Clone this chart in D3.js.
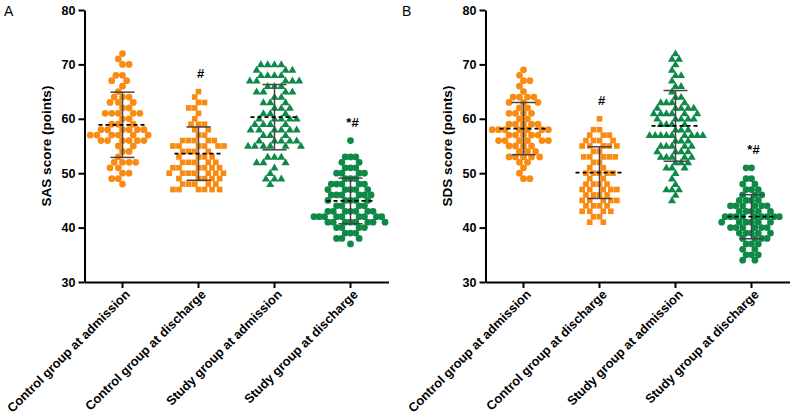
<!DOCTYPE html>
<html><head><meta charset="utf-8">
<script src="https://cdn.jsdelivr.net/npm/d3@7"></script>
<style>body{margin:0;background:#fff}svg{display:block}text{font-family:Arial,"Liberation Sans",sans-serif}</style>
</head><body>
<svg id="chart" width="792" height="420"></svg>
<script>
const categories = ["Control group at admission","Control group at discharge","Study group at admission","Study group at discharge"];
const yTicks = [30,40,50,60,70,80];
const annotations = ["", "#", "", "*#"];

const sasControlAdmission = [72,71,70,70,68,68,67,67,66,65,64,64,64,63,63,63,62,62,61,61,61,61,61,60,60,59,59,59,58,58,58,58,58,58,57,57,57,57,57,57,56,56,56,56,56,56,55,55,54,54,53,52,52,52,52,51,51,50,50,49,49,48];
const sasControlDischarge = [65,64,63,63,62,62,61,60,59,59,59,58,58,57,57,56,56,56,56,56,55,55,55,55,55,55,54,54,54,54,53,53,53,53,52,52,52,52,52,51,51,51,51,51,51,50,50,50,50,50,50,50,49,49,49,49,49,48,48,48,48,48,47,47,47,47,47,47];
const sasStudyAdmission = [70,70,70,70,69,69,69,68,68,68,68,67,67,67,67,67,66,66,66,65,65,65,65,64,64,63,63,63,62,62,62,61,61,61,60,60,60,60,60,59,59,59,59,58,58,58,58,58,58,57,57,57,56,56,56,56,56,55,55,55,55,55,55,53,53,53,52,52,52,51,50,49,49,49,48];
const sasStudyDischarge = [56,53,53,53,52,52,51,51,51,50,50,50,50,49,49,49,48,48,48,48,48,47,47,47,47,47,46,46,46,46,46,46,45,45,45,45,45,44,44,44,44,43,43,43,43,43,43,43,42,42,42,42,42,42,42,42,42,41,41,41,41,41,41,41,41,40,40,40,40,39,39,39,38,38,38,37];
const sasMeans = [58.9, 53.6, 60.3, 44.9];
const sasSD = [6.0, 4.9, 6.0, 4.2];

const sdsControlAdmission = [69,68,67,67,66,65,64,64,64,64,63,63,63,62,62,61,61,61,61,60,60,59,59,59,59,59,58,58,58,58,58,58,58,57,57,57,57,57,56,56,56,56,56,56,55,55,55,55,54,54,54,53,53,53,53,53,52,52,51,50,49,49];
const sdsControlDischarge = [60,58,58,57,57,57,56,56,56,56,55,55,55,55,55,54,54,53,53,53,53,53,52,52,51,51,50,50,50,50,50,49,49,48,48,48,48,47,47,47,47,47,46,46,46,46,45,45,45,45,45,44,44,44,44,43,43,43,43,42,42,41,41];
const sdsStudyAdmission = [72,71,71,70,69,68,68,67,66,66,65,64,64,63,63,63,63,62,62,62,62,62,61,61,61,61,61,61,60,60,60,60,60,59,59,59,59,58,58,58,57,57,57,57,57,57,57,57,57,56,56,56,55,55,55,55,55,54,54,54,54,53,53,53,53,53,52,52,52,51,51,51,50,49,48,47,47,47,46,45];
const sdsStudyDischarge = [51,51,49,49,48,48,47,47,47,46,46,46,45,45,45,45,44,44,44,44,44,44,43,43,43,43,43,42,42,42,42,42,42,42,42,42,41,41,41,41,41,41,40,40,40,40,40,40,39,39,39,39,39,38,38,38,38,37,37,37,36,36,35,35,35,34,34];
const sdsMeans = [58.2, 50.1, 58.7, 42.0];
const sdsSD = [4.8, 4.75, 6.5, 4.05];

const ORANGE = "#f98a12", GREEN = "#0e8948";
const groupStyle = [
  {shape:"circle", color:ORANGE},
  {shape:"square", color:ORANGE},
  {shape:"triangle", color:GREEN},
  {shape:"circle", color:GREEN}
];
// horizontal spacing of the swarm per group (layout only)
const swarmA = [6.6, 6.0, 6.8, 5.3];
const swarmB = [6.4, 6.0, 5.6, 5.4];

const svg = d3.select("#chart");

function beeswarm(values, y, a, b) {
  const placed = [];
  const sorted = values.slice().sort((p,q)=>q-p);
  const hit = (dx, dy) => (dx*dx)/(a*a) + (dy*dy)/(b*b) < 0.999;
  for (const v of sorted) {
    const py = y(v);
    const cands = [0];
    for (const p of placed) {
      const dy = Math.abs(p.y - py);
      if (dy < b) {
        const dx = a*Math.sqrt(1 - (dy*dy)/(b*b));
        cands.push(p.x + dx, p.x - dx);
      }
    }
    cands.sort((m,n)=>Math.abs(m)-Math.abs(n) || m-n);
    let chosen = 0;
    for (const c of cands) {
      if (!placed.some(p => hit(p.x - c, p.y - py))) { chosen = c; break; }
    }
    placed.push({x: chosen, y: py, v});
  }
  return placed;
}

function drawPanel(opts) {
  const {left, letter, letterX, ylabel, groups, means, sds, spacing} = opts;
  const top = 10, bottom = 282, width = 304;
  const g = svg.append("g");
  const y = d3.scaleLinear().domain([30,80]).range([bottom, top]);
  const x = d3.scaleBand().domain(categories).range([left, left+width]);

  g.append("text").attr("x", letterX).attr("y", 16).attr("font-size", 14).text(letter);

  const yAxis = g.append("g").attr("transform", `translate(${left},0)`)
    .call(d3.axisLeft(y).tickValues(yTicks).tickSize(6).tickSizeOuter(0).tickPadding(3));
  yAxis.select(".domain").attr("stroke","#000").attr("stroke-width",2);
  yAxis.selectAll(".tick line").attr("stroke","#000").attr("stroke-width",2);
  yAxis.selectAll(".tick text").attr("font-size",12.5).attr("font-weight","bold").attr("fill","#000")
    .style("font-family","Arial, 'Liberation Sans', sans-serif");

  const xAxis = g.append("g").attr("transform", `translate(0,${bottom})`)
    .call(d3.axisBottom(x).tickSize(6).tickSizeOuter(0));
  xAxis.select(".domain").attr("stroke","#000").attr("stroke-width",2);
  xAxis.selectAll(".tick line").attr("stroke","#000").attr("stroke-width",2);
  xAxis.selectAll(".tick text").remove();
  categories.forEach(c => {
    const cx = x(c) + x.bandwidth()/2;
    g.append("text")
      .attr("transform", `translate(${cx+5},${bottom+10}) rotate(-45)`)
      .attr("text-anchor","end").attr("dy","0.35em")
      .attr("font-size",12.8).attr("font-weight","bold").text(c);
  });

  g.append("text")
    .attr("transform", `translate(${left-34},${(top+bottom)/2}) rotate(-90)`)
    .attr("text-anchor","middle").attr("font-size",13.5).attr("font-weight","bold")
    .text(ylabel);

  const sym = {
    circle: d3.symbol().type(d3.symbolCircle).size(36),
    square: d3.symbol().type(d3.symbolSquare).size(32),
    triangle: d3.symbol().type(d3.symbolTriangle).size(28)
  };

  groups.forEach((vals, i) => {
    const cx = x(categories[i]) + x.bandwidth()/2;
    const st = groupStyle[i];
    const pts = beeswarm(vals, y, spacing[i], 7.0);
    g.append("g").selectAll("path").data(pts).join("path")
      .attr("transform", p => `translate(${cx + p.x},${p.y + (st.shape==="triangle"?0.5:0)})`)
      .attr("d", sym[st.shape]())
      .attr("fill", st.color);

    const m = means[i], s = sds[i];
    const eg = g.append("g").attr("stroke","#444").attr("stroke-width",1.5).attr("fill","none");
    eg.append("line").attr("x1",cx).attr("x2",cx).attr("y1",y(m+s)).attr("y2",y(m-s));
    eg.append("line").attr("x1",cx-12).attr("x2",cx+12).attr("y1",y(m+s)).attr("y2",y(m+s));
    eg.append("line").attr("x1",cx-12).attr("x2",cx+12).attr("y1",y(m-s)).attr("y2",y(m-s));
    g.append("line").attr("x1",cx-24).attr("x2",cx+24).attr("y1",y(m)).attr("y2",y(m))
      .attr("stroke","#000").attr("stroke-width",1.8).attr("stroke-dasharray","4,3");

    if (annotations[i]) {
      g.append("text").attr("x", cx + 2).attr("y", y(d3.max(vals)) - 14)
        .attr("text-anchor","middle").attr("font-size",13).attr("font-weight","bold")
        .text(annotations[i]);
    }
  });
}

drawPanel({left:84.5, letter:"A", letterX:4, ylabel:"SAS score (points)",
  groups:[sasControlAdmission, sasControlDischarge, sasStudyAdmission, sasStudyDischarge],
  means:sasMeans, sds:sasSD, spacing:swarmA});
drawPanel({left:485.5, letter:"B", letterX:402, ylabel:"SDS score (points)",
  groups:[sdsControlAdmission, sdsControlDischarge, sdsStudyAdmission, sdsStudyDischarge],
  means:sdsMeans, sds:sdsSD, spacing:swarmB});
</script>
</body></html>
